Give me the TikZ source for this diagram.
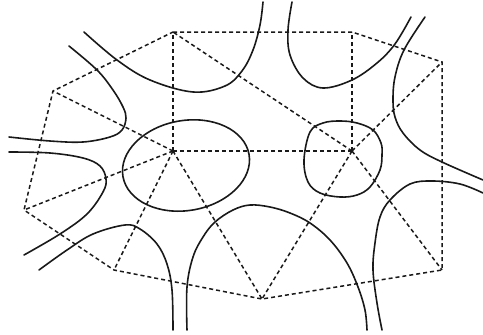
\documentclass[tikz,border=0pt]{standalone}
\begin{document}
\begin{tikzpicture}[x=1pt,y=-1pt,
  edge/.style={line width=1.5pt,dash pattern=on 4pt off 3pt,black!90},
  curve/.style={line width=1.6pt,black!90,line cap=round}]
\useasboundingbox (0,0) rectangle (483,335);
% vertices
\coordinate (A) at (173,32);
\coordinate (B) at (352,32);
\coordinate (C) at (442,62);
\coordinate (D) at (442,270);
\coordinate (E) at (262,299);
\coordinate (F) at (114,270);
\coordinate (G) at (24,210);
\coordinate (H) at (53,91);
\coordinate (P) at (173,151);
\coordinate (Q) at (352,151);
% dashed triangulation
\draw[edge] (A) -- (B) -- (C) -- (D) -- (E) -- (F) -- (G) -- (H) -- cycle;
\foreach \v in {A,H,G,F,E,Q} \draw[edge] (P) -- (\v);
\foreach \v in {A,B,C,D,E} \draw[edge] (Q) -- (\v);
% solid curves
\draw[curve] plot[smooth,tension=0.6] coordinates {(84,32) (117,60) (150,80) (193,92) (225,86) (242,71) (253,50) (260,25) (263,2)};
\draw[curve] plot[smooth,tension=0.6] coordinates {(69,46) (97,70) (113,90) (123,107) (126,118) (122,130) (110,137) (83,142) (50,141) (9,137)};
\draw[curve] plot[smooth,tension=0.6] coordinates {(9,152) (50,153) (83,158) (100,166) (106,179) (103,192) (87,214) (60,234) (24,255)};
\draw[curve] plot[smooth,tension=0.6] coordinates {(292,2) (288,30) (290,55) (303,78) (323,88) (352,80) (377,63) (395,44) (411,17)};
\draw[curve] plot[smooth,tension=0.6] coordinates {(425,17) (404,50) (395,77) (393,100) (395,117) (403,133) (420,150) (442,162) (483,180)};
\draw[curve] plot[smooth,tension=0.6] coordinates {(483,193) (460,184) (432,181) (410,184) (390,200) (380,217) (375,243) (373,270) (377,303) (382,330)};
\draw[curve] plot[smooth,tension=0.6] coordinates {(187,330) (187,287) (193,257) (203,237) (215,222) (233,210) (250,205) (270,207) (290,213) (310,223) (330,240) (347,263) (358,287) (365,310) (367,330)};
\draw[curve] plot[smooth,tension=0.6] coordinates {(39,270) (67,250) (93,234) (125,225) (140,229) (157,244) (167,264) (172,290) (173,330)};
\draw[curve] plot[smooth cycle,tension=0.6] coordinates {(304,160) (310,132) (323,123) (340,121) (357,123) (373,130) (381,143) (382,155) (380,170) (370,187) (357,195) (340,197) (320,193) (308,182)};
\draw[curve] (186,165.5) [rotate around={10:(186,165.5)}] ellipse (64pt and 45pt);
\end{tikzpicture}
\end{document}
